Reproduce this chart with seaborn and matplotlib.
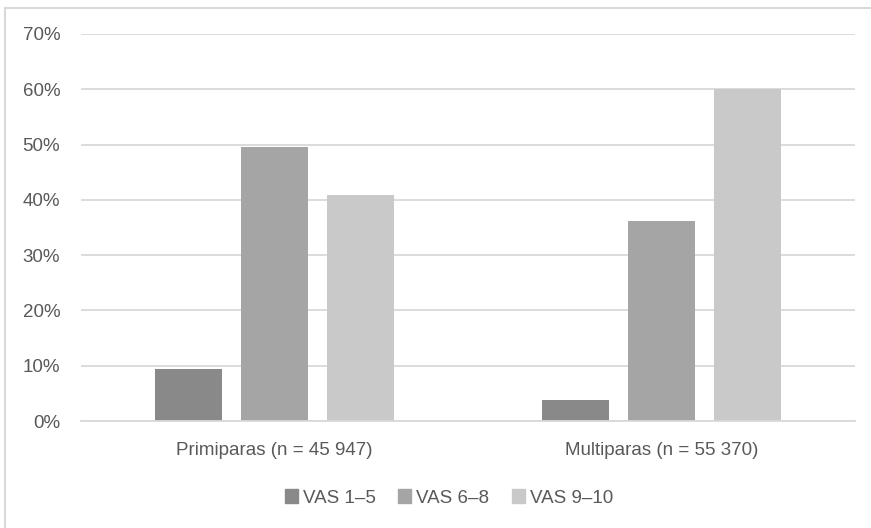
import matplotlib
matplotlib.use("Agg")
import matplotlib.pyplot as plt
import matplotlib.patches as mpatches
import seaborn as sns
import pandas as pd

# Share of women per pain score band, by parity group
groups = ["Primiparas (n = 45 947)", "Multiparas (n = 55 370)"]
bands = ["VAS 1–5", "VAS 6–8", "VAS 9–10"]
primiparas = [0.094, 0.496, 0.409]
multiparas = [0.038, 0.361, 0.601]
colors = ["#898989", "#a5a5a5", "#c9c9c9"]

rows = []
for g, vals in zip(groups, [primiparas, multiparas]):
    for b, v in zip(bands, vals):
        rows.append({"group": g, "band": b, "share": v})
df = pd.DataFrame(rows)

sns.set_style("white")
plt.rcParams["font.family"] = ["Liberation Sans", "DejaVu Sans"]

fig = plt.figure(figsize=(8.71, 5.28), dpi=100)
ax = fig.add_axes([81 / 871, 107 / 528, 774 / 871, 387 / 528])

sns.barplot(data=df, x="group", y="share", hue="band", palette=colors,
            hue_order=bands, order=groups, width=0.663, gap=0.216,
            edgecolor="none", linewidth=0, ax=ax, legend=False)

ax.set_ylim(0, 0.7)
ax.set_xlim(-0.5, 1.5)
ax.set_yticks([i / 10 for i in range(8)])
ax.set_yticklabels([f"{i * 10}%" for i in range(8)])
ax.yaxis.grid(True, color="#d9d9d9", linewidth=1.3)
ax.set_axisbelow(True)
for s in ["top", "right", "left"]:
    ax.spines[s].set_visible(False)
ax.spines["bottom"].set_color("#d9d9d9")
ax.spines["bottom"].set_linewidth(1.3)
ax.tick_params(axis="both", length=0, labelsize=13.5, labelcolor="#595959")
ax.tick_params(axis="y", pad=15)
ax.tick_params(axis="x", pad=15)
ax.set_xlabel("")
ax.set_ylabel("")

handles = [mpatches.Patch(color=c, label=b) for c, b in zip(colors, bands)]
fig.legend(handles=handles, loc="center", bbox_to_anchor=(449 / 871, 1 - 498 / 528),
           ncol=3, frameon=False, fontsize=13.5, labelcolor="#595959",
           handlelength=0.7, handleheight=0.7, handletextpad=0.27,
           columnspacing=1.2, borderpad=0)

# Chart frame (top and left edges)
fig.add_artist(plt.Line2D([5 / 871, 1], [1 - 8 / 528] * 2, color="#d9d9d9",
                          linewidth=1.5, transform=fig.transFigure))
fig.add_artist(plt.Line2D([5 / 871] * 2, [0, 1 - 8 / 528], color="#d9d9d9",
                          linewidth=1.5, transform=fig.transFigure))

fig.savefig("out.png", dpi=100)
